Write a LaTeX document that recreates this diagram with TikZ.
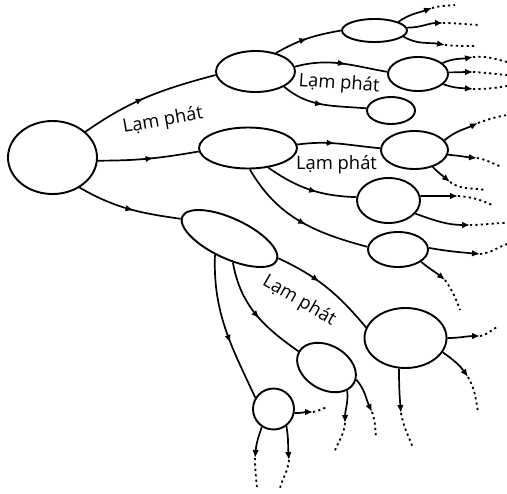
\documentclass[tikz,border=0pt]{standalone}
\usepackage{fontspec}
\setsansfont{Open Sans}
\usepackage{tikz}
\usetikzlibrary{shapes.geometric, arrows.meta, decorations.markings}

\tikzset{
  state/.style={draw, ellipse, line width=0.95pt, inner sep=0pt},
  flow/.style={line width=0.85pt, postaction={decorate},
    decoration={markings, mark=at position #1 with {\arrow{Latex[length=4pt,width=3.2pt]}}}},
  flow/.default=0.55,
  exit/.style={line width=0.85pt, -{Latex[length=4pt,width=3.3pt]}},
  trail/.style={line width=0.9pt, dash pattern=on 1.1pt off 1.6pt},
  lbl/.style={font=\sffamily\fontsize{9.2}{11}\selectfont, inner sep=0pt}
}

\begin{document}
\begin{tikzpicture}[x=0.5pt, y=0.5pt]
  \useasboundingbox (0,0) rectangle (507,-493);

  % states
  \node[state, minimum width=44.5pt, minimum height=36.5pt] (root) at (52.5,-157.5) {};
  \node[state, minimum width=39.5pt, minimum height=20.5pt] (up) at (255.5,-71.5) {};
  \node[state, minimum width=49pt, minimum height=20.5pt] (mid) at (248,-148) {};
  \node[state, minimum width=52pt, minimum height=20pt, rotate=-25] (low) at (229.5,-238.5) {};
  \node[state, minimum width=32.5pt, minimum height=11.5pt] (up1) at (374.5,-30.5) {};
  \node[state, minimum width=30pt, minimum height=17pt] (up2) at (418,-74) {};
  \node[state, minimum width=24pt, minimum height=13.5pt] (up3) at (391,-110.5) {};
  \node[state, minimum width=33.5pt, minimum height=19pt] (mid1) at (414.5,-150) {};
  \node[state, minimum width=31.5pt, minimum height=22.5pt] (mid2) at (388.5,-200.5) {};
  \node[state, minimum width=30pt, minimum height=17.5pt] (mid3) at (398,-249.5) {};
  \node[state, minimum width=41pt, minimum height=30pt] (low1) at (405.5,-338) {};
  \node[state, minimum width=31.5pt, minimum height=22pt, rotate=-30] (low2) at (326.5,-367.5) {};
  \node[state, minimum width=20.5pt, minimum height=20.5pt] (low3) at (273.5,-409) {};

  % labels
  \node[lbl, rotate=10] (infl1) at (163,-121) {Lạm phát};
  \node[lbl, rotate=-4] (infl2) at (339,-84) {Lạm phát};
  \node[lbl] (infl3) at (336.5,-165) {Lạm phát};
  \node[lbl, rotate=-30] (infl4) at (299,-301) {Lạm phát};

  % paths between states
  \draw[flow=0.47] (root.38) to[out=35,in=195] (up.185);
  \draw[flow] (root.-4) to[out=0,in=190] (mid.184);
  \draw[flow] (root.-48) to[out=-30,in=172] (low.183);
  \draw[flow=0.5] (up.42) to[out=30,in=190] (up1.180);
  \draw[flow] (up.7) to[out=15,in=170] (up2.176);
  \draw[flow=0.5] (up.-28) to[out=-40,in=175] (up3.175);
  \draw[flow=0.45] (mid.4) to[out=8,in=175] (mid1.177);
  \draw[flow=0.58] (mid.-44) to[out=-35,in=178] (mid2.174);
  \draw[flow] (mid.-85) to[out=-60,in=165] (mid3.175);
  \draw[flow=0.42] (low.3) to[out=-25,in=130] (low1.165);
  \draw[flow] (low.-57) to[out=-80,in=145] (low2.180);
  \draw[flow=0.6] (low.-107) to[out=-92,in=115] (low3.148);

  % open ends
  \foreach \n/\x/\y in {
    up1a-t/432/8, up1a-e/455/5, up1b-t/443/23, up1b-e/480/25, up1c-t/445/45, up1c-e/477/46,
    up2a-t/473/57, up2a-e/507/62, up2b-t/473/72, up2b-e/507/75, up2c-t/473/89, up2c-e/507/86,
    mid1a-t/478/123, mid1a-e/507/115, mid1b-t/477/158, mid1b-e/502/167, mid1c-t/450/182, mid1c-e/485/190,
    mid2a-t/458/196, mid2a-e/492/205, mid2b-t/470/225, mid2b-e/507/223,
    mid3a-t/480/254, mid3a-e/507/244, mid3b-t/445/280, mid3b-e/460/310,
    low1a-t/480/336, low1a-e/497/327, low1b-t/468/377, low1b-e/478/412, low1c-t/401/413, low1c-e/413/448,
    low2a-t/345/423, low2a-e/334/453, low2b-t/372/412, low2b-e/376/438,
    low3a-t/313/412, low3a-e/327/407, low3b-t/255/458, low3b-e/257/488, low3c-t/289/460, low3c-e/280/488}
    \coordinate (\n) at (\x,-\y);

  \foreach \k/\s/\o/\i/\p/\q in {
    up1a/up1.20/35/200/15/185, up1b/up1.5/0/180/0/178, up1c/up1.-12/-30/170/-5/180,
    up2a/up2.24/25/190/5/165, up2b/up2.3/0/180/-3/175, up2c/up2.-22/-20/175/0/190,
    mid1a/mid1.18/40/205/20/190, mid1b/mid1.-8/-5/175/-10/160, mid1c/mid1.-43/-45/140/-35/170,
    mid2a/mid2.8/0/180/-5/155, mid2b/mid2.-26/-20/180/0/180,
    mid3a/mid3.3/-10/175/5/200, mid3b/mid3.-28/-40/140/-55/110,
    low1a/low1.0/0/180/10/210, low1b/low1.-21/-35/125/-60/100, low1c/low1.-102/-90/95/-80/110,
    low2a/low2.-18/-85/90/-95/70, low2b/low2.8/-50/115/-70/95,
    low3a/low3.-11/0/180/10/200, low3b/low3.-123/-110/85/-90/95, low3c/low3.-53/-80/95/-95/75}{
    \draw[exit] (\s) to[out=\o,in=\i] (\k-t);
    \draw[trail] (\k-t) to[out=\p,in=\q] (\k-e);
  }
\end{tikzpicture}
\end{document}
